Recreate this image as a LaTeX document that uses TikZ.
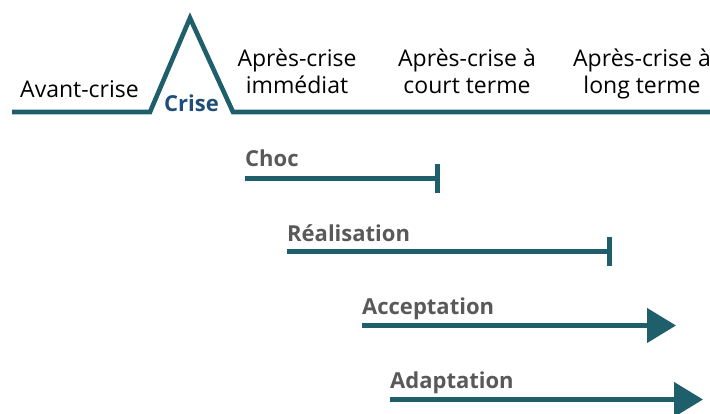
\documentclass[tikz,border=0pt]{standalone}
\usepackage{fontspec}
\setmainfont{Open Sans}
\usetikzlibrary{arrows.meta}
\definecolor{teal}{HTML}{1F5F6B}
\definecolor{criseblue}{HTML}{1F4E79}
\definecolor{lblgray}{HTML}{595959}
\tikzset{
  phase/.style={inner sep=0pt, font=\fontsize{23}{27}\selectfont, text=black, align=center},
  stage/.style={inner sep=0pt, anchor=base west, font=\fontsize{22}{27}\selectfont\bfseries, text=lblgray},
  bar/.style={draw=teal, line width=4.6pt},
  stopbar/.style={bar, -{Bar[width=29pt, line width=4.6pt]}},
  goarrow/.style={bar, -{Triangle[length=29pt, width=34pt]}, line cap=butt},
}
\begin{document}
\begin{tikzpicture}[x=1pt,y=-1pt]
\useasboundingbox (0,0) rectangle (710,414);
% timeline
\coordinate (t0) at (12,112);
\coordinate (tl) at (150,112);
\coordinate (tp) at (190,18);
\coordinate (tr) at (233,112);
\coordinate (t1) at (712,112);
\draw[draw=teal, line width=4.6pt, line join=miter, miter limit=20] (t0) -- (tl) -- (tp) -- (tr) -- (t1);
% phase labels
\node[phase, anchor=base west] (avant) at (20,98) {Avant-crise};
\node[inner sep=0pt, anchor=base west, font=\fontsize{22}{27}\selectfont\bfseries, text=criseblue] (crise) at (164,111.5) {Crise};
\node[phase, anchor=south] (imm) at (297,102) {Après-crise\\immédiat\strut};
\node[phase, anchor=south] (court) at (467,102) {Après-crise à\\court terme\strut};
\node[phase, anchor=south] (long) at (642,102) {Après-crise à\\long terme\strut};
% stages
\node[stage] (choc) at (245,167) {Choc};
\coordinate (c0) at (245,178.5);
\coordinate (c1) at (440,178.5);
\draw[stopbar] (c0) -- (c1);
\node[stage] (real) at (287,242) {Réalisation};
\coordinate (r0) at (287,251.5);
\coordinate (r1) at (612,251.5);
\draw[stopbar] (r0) -- (r1);
\node[stage] (acc) at (362,314.5) {Acceptation};
\coordinate (a0) at (362,325.5);
\coordinate (a1) at (676,325.5);
\draw[goarrow] (a0) -- (a1);
\node[stage] (ada) at (390,388.5) {Adaptation};
\coordinate (d0) at (390,399.5);
\coordinate (d1) at (703,399.5);
\draw[goarrow] (d0) -- (d1);
\end{tikzpicture}
\end{document}
